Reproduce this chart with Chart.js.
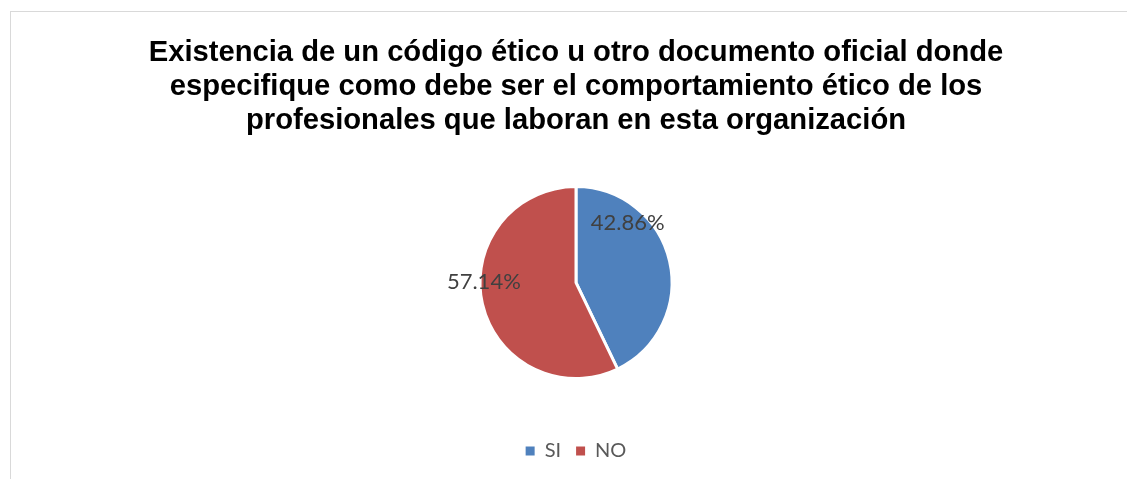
<!DOCTYPE html>
<html>
<head>
<meta charset="utf-8">
<script src="https://cdn.jsdelivr.net/npm/chart.js@4.4.1/dist/chart.umd.min.js"></script>
<style>
  html, body { margin: 0; padding: 0; background: #fff; overflow: hidden; }
  #frame { position: absolute; left: 10px; top: 11px; width: 1300px; height: 600px; border: 1px solid #d9d9d9; }
  #wrap { position: absolute; left: 0; top: 0; width: 1127px; height: 479px; }
</style>
</head>
<body>
<div id="frame"></div>
<div id="wrap"><canvas id="chart"></canvas></div>
<script>
// chart data
const titleLines = [
  'Existencia de un código ético u otro documento oficial donde',
  'especifique como debe ser el comportamiento ético de los',
  'profesionales que laboran en esta organización'
];
const categories = ['SI', 'NO'];
const percentages = [42.86, 57.14];
const sliceColors = ['#4F81BD', '#C0504D'];

// where each percentage label sits: angle (deg, 0 = right, clockwise) and fraction of radius
const labelSpots = [
  { angle: -49, dist: 0.82 },
  { angle: 180.5, dist: 0.96 }
];

const percentLabels = {
  id: 'percentLabels',
  afterDatasetsDraw(chart) {
    const { ctx } = chart;
    const meta = chart.getDatasetMeta(0);
    ctx.save();
    ctx.font = '22px Lato';
    ctx.fillStyle = '#404040';
    ctx.textAlign = 'center';
    ctx.textBaseline = 'middle';
    meta.data.forEach((arc, i) => {
      const spot = labelSpots[i];
      const a = spot.angle * Math.PI / 180;
      const r = arc.outerRadius * spot.dist;
      const x = arc.x + Math.cos(a) * r;
      const y = arc.y + Math.sin(a) * r;
      ctx.fillText(percentages[i].toFixed(2) + '%', x, y);
    });
    ctx.restore();
  }
};

new Chart(document.getElementById('chart'), {
  type: 'pie',
  data: {
    labels: categories,
    datasets: [{
      data: percentages,
      backgroundColor: sliceColors,
      borderColor: '#ffffff',
      borderWidth: 3
    }]
  },
  options: {
    responsive: true,
    maintainAspectRatio: false,
    animation: false,
    radius: 96,
    layout: { padding: { left: 25, right: 0, top: 0, bottom: 8 } },
    plugins: {
      title: {
        display: true,
        text: titleLines,
        color: '#000000',
        font: { family: 'Liberation Sans', size: 29.2, weight: 'bold', lineHeight: 1.165 },
        padding: { top: 36, bottom: 1 }
      },
      legend: {
        position: 'bottom',
        labels: {
          boxWidth: 9,
          boxHeight: 9,
          padding: 15,
          color: '#595959',
          font: { family: 'Lato', size: 20 },
          generateLabels(chart) {
            const items = Chart.overrides.pie.plugins.legend.labels.generateLabels(chart);
            items.forEach(it => { it.lineWidth = 0; });
            return items;
          }
        }
      },
      tooltip: { enabled: false }
    }
  },
  plugins: [percentLabels]
});
</script>
</body>
</html>
